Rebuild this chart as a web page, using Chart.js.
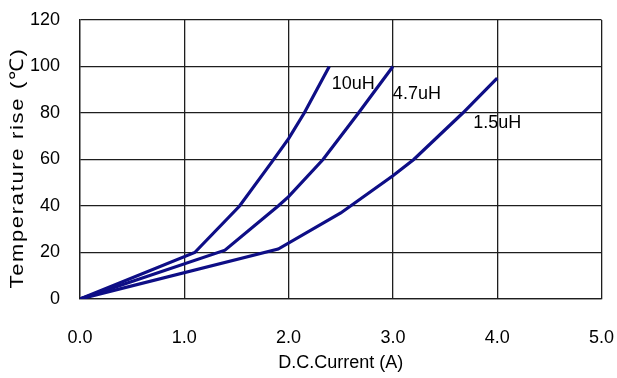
<!DOCTYPE html>
<html>
<head>
<meta charset="utf-8">
<script src="https://cdn.jsdelivr.net/npm/chart.js@4"></script>
<style>
  html, body { margin: 0; padding: 0; background: #fff; }
  #wrap { width: 617px; height: 378px; position: relative; }
</style>
</head>
<body>
<div id="wrap"><canvas id="chart"></canvas></div>
<script>
// ---- data ----
const seriesNames = ['10uH', '4.7uH', '1.5uH'];

const current10  = [0, 1.1, 1.53, 1.84, 2.0, 2.15, 2.39];
const temp10     = [0, 20, 40, 59, 69, 80, 100];

const current47  = [0, 1.39, 1.9, 2.0, 2.33, 2.67, 3.0];
const temp47     = [0, 21, 40, 44, 60, 80, 100];

const current15  = [0, 1.9, 2.5, 3.0, 3.2, 3.67, 4.0];
const temp15     = [0, 21.5, 37, 53, 60, 80, 95];

// where each curve's name sits (data units)
const labelX = [2.62, 3.23, 4.0];
const labelY = [92.5, 88.2, 75.5];

const xTicks = [0, 1, 2, 3, 4, 5];
const yTicks = [0, 20, 40, 60, 80, 100, 120];

const LINE = '#0e0e86';
const GRID = '#1e1e1e';
const FONT = "'Liberation Sans', Arial, sans-serif";

const toPts = (xs, ys) => xs.map((x, i) => ({ x: x, y: ys[i] }));

// curve names + rotated, letter-spaced y title
const textPlugin = {
  id: 'textPlugin',
  afterDatasetsDraw(chart) {
    const { ctx, scales: { x, y } } = chart;
    ctx.save();
    ctx.fillStyle = '#000';
    ctx.font = '18px ' + FONT;
    ctx.textAlign = 'center';
    ctx.textBaseline = 'middle';
    seriesNames.forEach((n, i) => {
      ctx.fillText(n, x.getPixelForValue(labelX[i]), y.getPixelForValue(labelY[i]));
    });
    ctx.restore();

    ctx.save();
    ctx.fillStyle = '#000';
    ctx.translate(18, 168);
    ctx.rotate(-Math.PI / 2);
    ctx.scale(1.15, 1);
    ctx.font = '19px ' + FONT;
    ctx.letterSpacing = '1.5px';
    ctx.textAlign = 'center';
    ctx.textBaseline = 'middle';
    ctx.fillText('Temperature rise (\u2103)', 0, 0);
    ctx.restore();
  }
};

const ds = (i, xs, ys) => ({
  label: seriesNames[i],
  data: toPts(xs, ys),
  showLine: true,
  borderColor: LINE,
  backgroundColor: LINE,
  borderWidth: 3.2,
  pointRadius: 0,
  tension: 0,
  fill: false
});

new Chart(document.getElementById('chart'), {
  type: 'scatter',
  data: {
    datasets: [
      ds(0, current10, temp10),
      ds(1, current47, temp47),
      ds(2, current15, temp15)
    ]
  },
  options: {
    responsive: true,
    maintainAspectRatio: false,
    animation: false,
    layout: { padding: { left: 0, top: 20, right: 15.5, bottom: 0 } },
    plugins: { legend: { display: false }, tooltip: { enabled: false } },
    scales: {
      x: {
        type: 'linear',
        min: xTicks[0], max: xTicks[xTicks.length - 1],
        afterBuildTicks: s => { s.ticks = xTicks.map(v => ({ value: v })); },
        afterFit: s => { s.height = 79; s.paddingLeft = 0; s.paddingRight = 0; },
        ticks: {
          callback: v => v.toFixed(1),
          color: '#000',
          font: { family: FONT, size: 18 },
          padding: 28,
          maxRotation: 0
        },
        grid: { color: GRID, lineWidth: 1.3, drawTicks: false },
        border: { display: true, color: GRID, width: 1.3 },
        title: {
          display: true,
          text: 'D.C.Current (A)',
          color: '#000',
          font: { family: FONT, size: 18 },
          padding: { top: 0, bottom: 4 }
        }
      },
      y: {
        type: 'linear',
        min: yTicks[0], max: yTicks[yTicks.length - 1],
        afterBuildTicks: s => { s.ticks = yTicks.map(v => ({ value: v })); },
        afterFit: s => { s.width = 80; s.paddingTop = 0; s.paddingBottom = 0; },
        ticks: {
          color: '#000',
          font: { family: FONT, size: 18 },
          padding: 20
        },
        grid: { color: GRID, lineWidth: 1.3, drawTicks: false },
        border: { display: true, color: GRID, width: 1.3 }
      }
    }
  },
  plugins: [textPlugin]
});
</script>
</body>
</html>
